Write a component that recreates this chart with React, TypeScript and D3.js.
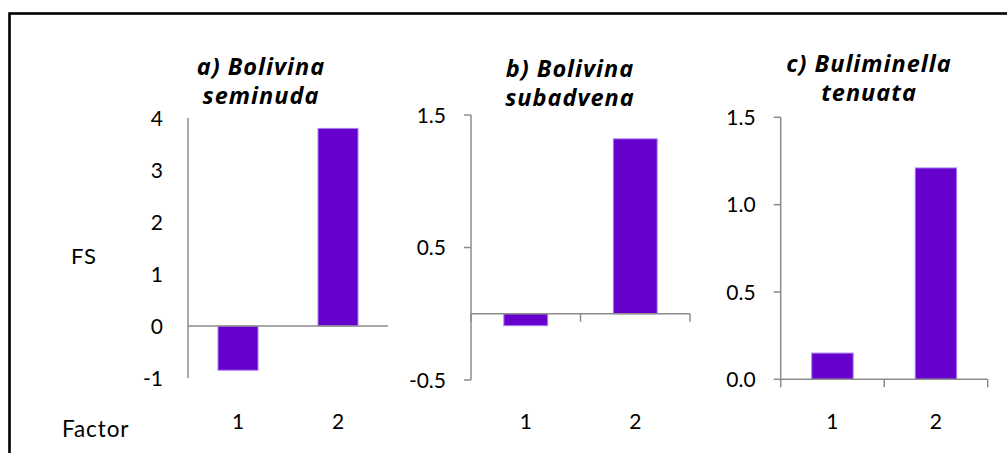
import React from "react";
import * as d3 from "d3";

// Factor scores (FS) for each species on factors 1 and 2
const factors = ["1", "2"];
const seminudaFS = [-0.85, 3.8];
const subadvenaFS = [-0.09, 1.32];
const tenuataFS = [0.15, 1.21];

const seminudaTicks = [-1, 0, 1, 2, 3, 4];
const subadvenaTicks = [-0.5, 0.5, 1.5];
const tenuataTicks = [0, 0.5, 1.0, 1.5];

const seminudaTitle = ["a) Bolivina", "seminuda"];
const subadvenaTitle = ["b) Bolivina", "subadvena"];
const tenuataTitle = ["c) Buliminella", "tenuata"];

const BAR = "#6600cc";
const BAR_EDGE = "#a57ef2";
const AXIS = "#8c8c8c";
const TICK_FONT = "Lato, 'Noto Sans', sans-serif";
const TITLE_FONT = "'Open Sans', 'DejaVu Sans', sans-serif";

// plain hyphen for negatives, as in spreadsheet output
const hyphen = (f: (n: number) => string) => (v: number) => f(v).replace("\u2212", "-");
const fmtInt = hyphen(d3.format("d"));
const fmtOne = hyphen(d3.format(".1f"));

type PanelProps = {
  values: number[];
  ticks: number[];
  fmt: (v: number) => string;
  domain: [number, number];
  x0: number;
  x1: number;
  yBottom: number;
  yTop: number;
  tickMarks: boolean;
  title: string[];
  titleX: number;
  titleY: number;
};

function Panel(p: PanelProps) {
  const x = d3
    .scaleBand<string>()
    .domain(factors)
    .range([p.x0, p.x1])
    .paddingInner(0.6)
    .paddingOuter(0.3);
  const y = d3.scaleLinear().domain(p.domain).range([p.yBottom, p.yTop]);
  const y0 = y(0);
  // category boundaries for the tick marks
  const bounds = [p.x0, p.x0 + (p.x1 - p.x0) / 2, p.x1];

  return (
    <g>
      {p.title.map((t, i) => (
        <text
          key={t}
          x={p.titleX}
          y={p.titleY + i * 29}
          textAnchor="middle"
          fontFamily={TITLE_FONT}
          fontStyle="italic"
          fontWeight="bold"
          fontSize={23.5}
          letterSpacing={1}
          fill="#000"
        >
          {t}
        </text>
      ))}
      {p.values.map((v, i) => (
        <rect
          key={i}
          x={x(factors[i])}
          width={x.bandwidth()}
          y={Math.min(y(v), y0)}
          height={Math.abs(y(v) - y0)}
          fill={BAR}
          stroke={BAR_EDGE}
          strokeWidth={1}
        />
      ))}
      {/* value axis */}
      <line x1={p.x0} x2={p.x0} y1={p.yTop} y2={p.yBottom} stroke={AXIS} strokeWidth={1.5} />
      {p.ticks.map((t) => (
        <g key={t}>
          {p.tickMarks && (
            <line x1={p.x0 - 7} x2={p.x0} y1={y(t)} y2={y(t)} stroke={AXIS} strokeWidth={1.5} />
          )}
          <text
            x={p.x0 - 25}
            y={y(t)}
            dy="0.36em"
            textAnchor="end"
            fontFamily={TICK_FONT}
            fontSize={21}
            fill="#000"
          >
            {p.fmt(t)}
          </text>
        </g>
      ))}
      {/* category axis along zero */}
      <line x1={p.x0} x2={p.x1} y1={y0} y2={y0} stroke={AXIS} strokeWidth={1.5} />
      {p.tickMarks &&
        bounds.map((b, i) => (
          <line key={i} x1={b} x2={b} y1={y0} y2={y0 + 8} stroke={AXIS} strokeWidth={1.5} />
        ))}
      {factors.map((f) => (
        <text
          key={f}
          x={(x(f) as number) + x.bandwidth() / 2}
          y={421}
          dy="0.36em"
          textAnchor="middle"
          fontFamily={TICK_FONT}
          fontSize={21}
          fill="#000"
        >
          {f}
        </text>
      ))}
    </g>
  );
}

export default function App() {
  return (
    <div style={{ position: "absolute", left: 0, top: 0 }}>
      <svg width={1007} height={453} style={{ display: "block", background: "#fff" }}>
        <rect x={9.5} y={13.5} width={1100} height={500} fill="#fff" stroke="#000" strokeWidth={2.6} />
        <text x={71} y={256} dy="0.36em" fontFamily={TICK_FONT} fontSize={22} letterSpacing={0.8} fill="#000">
          FS
        </text>
        <text x={62} y={428.5} dy="0.36em" fontFamily={TICK_FONT} fontSize={22.5} letterSpacing={0.9} fill="#000">
          Factor
        </text>
        <Panel
          values={seminudaFS}
          ticks={seminudaTicks}
          fmt={fmtInt}
          domain={[-1, 4]}
          x0={188}
          x1={388}
          yBottom={378}
          yTop={118}
          tickMarks={false}
          title={seminudaTitle}
          titleX={261}
          titleY={75}
        />
        <Panel
          values={subadvenaFS}
          ticks={subadvenaTicks}
          fmt={fmtOne}
          domain={[-0.5, 1.5]}
          x0={471}
          x1={690}
          yBottom={380}
          yTop={115}
          tickMarks={true}
          title={subadvenaTitle}
          titleX={570}
          titleY={77}
        />
        <Panel
          values={tenuataFS}
          ticks={tenuataTicks}
          fmt={fmtOne}
          domain={[0, 1.5]}
          x0={780.7}
          x1={987.7}
          yBottom={379.3}
          yTop={117.3}
          tickMarks={true}
          title={tenuataTitle}
          titleX={869}
          titleY={72}
        />
      </svg>
    </div>
  );
}
